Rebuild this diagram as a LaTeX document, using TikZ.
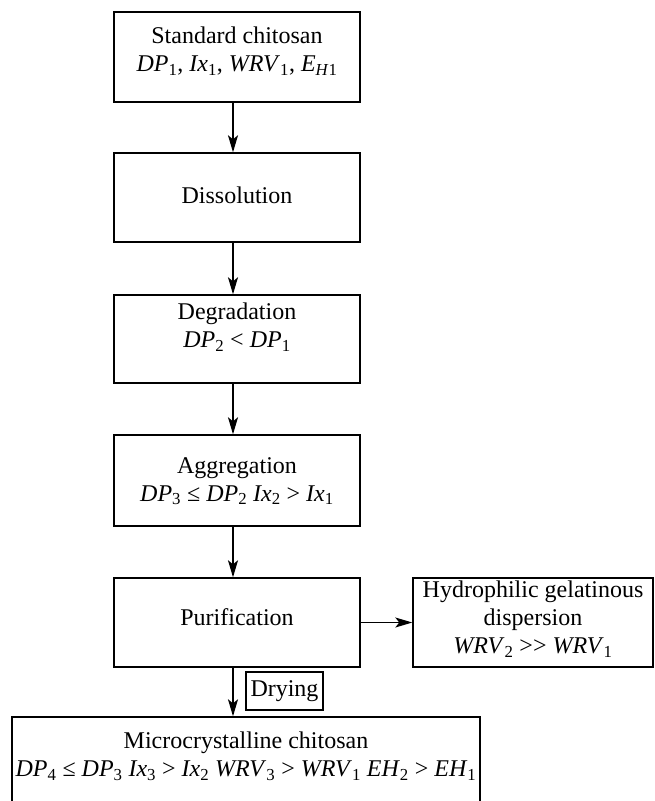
\documentclass[tikz,border=0pt]{standalone}
\usepackage{fontspec}
\setmainfont{Liberation Serif}
\usetikzlibrary{arrows.meta}
\newcommand{\vi}[1]{\textit{#1}}
\newcommand{\lo}[1]{\textsubscript{#1}}
\newcommand{\dblgt}{{>}{>}}
\begin{document}
\begin{tikzpicture}[x=1pt,y=-1pt,
  box/.style={draw, line width=1.4pt, inner sep=0pt},
  lbl/.style={font=\fontsize{24}{28}\selectfont, align=center, inner sep=0pt},
  arr/.style={-{Stealth[length=17pt,width=10pt,inset=4pt]}, line width=1.4pt}]
\useasboundingbox (0,0) rectangle (655,801);
% boxes
\node[box, minimum width=246pt, minimum height=90pt] (b1) at (237,57) {};
\node[box, minimum width=246pt, minimum height=89pt] (b2) at (237,197.5) {};
\node[box, minimum width=246pt, minimum height=88pt] (b3) at (237,339) {};
\node[box, minimum width=246pt, minimum height=91pt] (b4) at (237,480.5) {};
\node[box, minimum width=246pt, minimum height=89pt] (b5) at (237,622.5) {};
\node[box, minimum width=240pt, minimum height=89pt] (hy) at (533,622.5) {};
\node[box, minimum width=77pt, minimum height=38pt] (dr) at (284.5,691) {};
\node[box, minimum width=468pt, minimum height=120pt] (mc) at (246,777) {};
% texts
\node[lbl] (t1) at (237,51) {Standard chitosan\\\vi{DP}\lo{1}, \vi{Ix}\lo{1}, \vi{WRV}\lo{1}, \vi{E}\lo{\vi{H}1}};
\node[lbl] (t2) at (237,195) {Dissolution};
\node[lbl] (t3) at (237,327) {Degradation\\\vi{DP}\lo{2} < \vi{DP}\lo{1}};
\node[lbl] (t4) at (237,481) {Aggregation\\\vi{DP}\lo{3} ≤ \vi{DP}\lo{2} \vi{Ix}\lo{2} > \vi{Ix}\lo{1}};
\node[lbl] (t5) at (237,617) {Purification};
\node[lbl] (t6) at (533,619) {Hydrophilic gelatinous\\dispersion\\\vi{WRV}\lo{2} \dblgt{} \vi{WRV}\lo{1}};
\node[lbl] (t7) at (284.5,691) {Drying};
\node[lbl] (t8) at (246,756) {Microcrystalline chitosan\\\vi{DP}\lo{4} ≤ \vi{DP}\lo{3} \vi{Ix}\lo{3} > \vi{Ix}\lo{2} \vi{WRV}\lo{3} > \vi{WRV}\lo{1} \vi{EH}\lo{2} > \vi{EH}\lo{1}};
% connectors
\draw[arr] ([xshift=-4pt]b1.south) -- ([xshift=-4pt]b2.north);
\draw[arr] ([xshift=-4pt]b2.south) -- ([xshift=-4pt]b3.north);
\draw[arr] ([xshift=-4pt]b3.south) -- ([xshift=-4pt]b4.north);
\draw[arr] ([xshift=-4pt]b4.south) -- ([xshift=-4pt]b5.north);
\draw[arr] (b5.east) -- (hy.west);
\draw[arr] ([xshift=-4pt]b5.south) -- ([xshift=-4pt]b5.south |- mc.north);
\end{tikzpicture}
\end{document}
